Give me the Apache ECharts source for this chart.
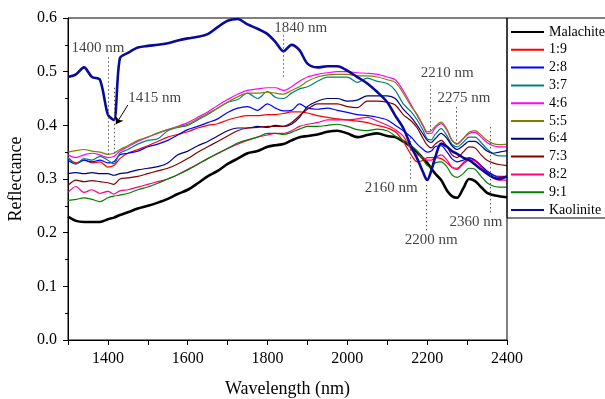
<!DOCTYPE html>
<html><head><meta charset="utf-8">
<script src="https://cdn.jsdelivr.net/npm/echarts@6/dist/echarts.min.js"></script>
<style>html,body{margin:0;padding:0;background:#fff}#c{width:605px;height:399px}</style>
</head><body><div id="c"></div><script>
const wavelengths = [1300,1320,1340,1360,1380,1400,1415,1430,1450,1475,1500,1525,1550,1575,1600,1625,1650,1675,1700,1725,1750,1775,1800,1820,1840,1860,1880,1900,1925,1950,1975,2000,2025,2050,2075,2100,2120,2140,2160,2175,2190,2200,2210,2220,2235,2250,2262,2275,2290,2305,2320,2335,2350,2365,2380,2400];

const malachite = [0.230,0.222,0.220,0.220,0.220,0.225,0.228,0.233,0.238,0.245,0.250,0.256,0.263,0.272,0.280,0.292,0.305,0.315,0.328,0.338,0.348,0.352,0.360,0.363,0.365,0.372,0.378,0.380,0.383,0.388,0.390,0.385,0.378,0.382,0.385,0.380,0.378,0.370,0.360,0.350,0.338,0.330,0.320,0.310,0.298,0.278,0.268,0.265,0.282,0.300,0.296,0.285,0.274,0.270,0.268,0.266];
const r19 = [0.340,0.330,0.335,0.330,0.332,0.322,0.325,0.338,0.348,0.355,0.362,0.370,0.378,0.383,0.388,0.395,0.400,0.403,0.410,0.415,0.418,0.418,0.420,0.420,0.422,0.425,0.425,0.423,0.418,0.415,0.412,0.410,0.408,0.405,0.400,0.395,0.388,0.370,0.345,0.332,0.335,0.340,0.340,0.340,0.338,0.330,0.322,0.320,0.330,0.338,0.335,0.325,0.313,0.307,0.305,0.305];
const r28 = [0.335,0.328,0.335,0.332,0.335,0.330,0.332,0.345,0.348,0.352,0.360,0.365,0.372,0.382,0.392,0.398,0.405,0.412,0.424,0.432,0.435,0.428,0.440,0.432,0.427,0.428,0.440,0.432,0.430,0.432,0.428,0.424,0.420,0.418,0.415,0.410,0.400,0.390,0.378,0.365,0.355,0.350,0.352,0.360,0.362,0.350,0.338,0.332,0.335,0.340,0.335,0.325,0.315,0.308,0.303,0.305];
const r37 = [0.340,0.328,0.338,0.335,0.342,0.335,0.328,0.348,0.355,0.365,0.372,0.375,0.390,0.396,0.400,0.410,0.420,0.432,0.443,0.448,0.460,0.450,0.463,0.452,0.450,0.460,0.468,0.472,0.482,0.490,0.490,0.490,0.480,0.488,0.482,0.478,0.465,0.440,0.425,0.410,0.390,0.375,0.373,0.383,0.394,0.380,0.365,0.360,0.368,0.378,0.378,0.368,0.356,0.347,0.343,0.343];
const r46 = [0.345,0.340,0.345,0.348,0.345,0.340,0.342,0.352,0.360,0.370,0.378,0.385,0.392,0.398,0.405,0.415,0.425,0.437,0.448,0.458,0.465,0.468,0.470,0.470,0.465,0.472,0.482,0.490,0.495,0.498,0.500,0.500,0.498,0.497,0.495,0.490,0.485,0.465,0.438,0.418,0.398,0.385,0.385,0.395,0.403,0.390,0.372,0.366,0.375,0.385,0.387,0.378,0.368,0.362,0.360,0.360];
const r55 = [0.350,0.353,0.355,0.352,0.350,0.346,0.348,0.355,0.362,0.372,0.378,0.386,0.392,0.397,0.402,0.412,0.422,0.432,0.443,0.453,0.460,0.460,0.462,0.460,0.458,0.465,0.472,0.482,0.490,0.494,0.495,0.495,0.492,0.492,0.490,0.485,0.480,0.460,0.435,0.420,0.400,0.388,0.390,0.398,0.406,0.392,0.373,0.365,0.375,0.387,0.390,0.382,0.372,0.366,0.364,0.365];
const r64 = [0.310,0.312,0.310,0.312,0.310,0.310,0.307,0.310,0.312,0.317,0.320,0.323,0.330,0.345,0.352,0.362,0.370,0.380,0.390,0.395,0.395,0.398,0.396,0.400,0.398,0.402,0.415,0.435,0.445,0.450,0.450,0.445,0.447,0.455,0.455,0.455,0.450,0.430,0.415,0.400,0.383,0.372,0.368,0.375,0.385,0.375,0.362,0.355,0.362,0.370,0.370,0.362,0.352,0.348,0.350,0.353];
const r73 = [0.288,0.298,0.295,0.297,0.295,0.293,0.290,0.300,0.302,0.305,0.310,0.315,0.320,0.328,0.338,0.350,0.360,0.370,0.380,0.390,0.395,0.396,0.398,0.398,0.398,0.405,0.418,0.430,0.440,0.440,0.440,0.435,0.433,0.445,0.445,0.443,0.438,0.420,0.408,0.395,0.375,0.363,0.358,0.365,0.372,0.360,0.345,0.340,0.350,0.360,0.358,0.345,0.335,0.330,0.327,0.325];
const r82 = [0.275,0.286,0.275,0.280,0.273,0.277,0.272,0.278,0.280,0.285,0.290,0.295,0.300,0.308,0.318,0.328,0.338,0.347,0.357,0.365,0.372,0.378,0.382,0.385,0.385,0.390,0.398,0.402,0.405,0.410,0.410,0.410,0.412,0.415,0.408,0.400,0.392,0.380,0.355,0.345,0.340,0.335,0.335,0.340,0.345,0.335,0.322,0.318,0.328,0.335,0.333,0.322,0.310,0.302,0.298,0.298];
const r91 = [0.260,0.262,0.265,0.262,0.258,0.265,0.268,0.270,0.273,0.280,0.285,0.292,0.300,0.308,0.317,0.327,0.338,0.348,0.357,0.367,0.373,0.378,0.385,0.385,0.383,0.387,0.393,0.398,0.398,0.400,0.402,0.398,0.392,0.390,0.393,0.390,0.380,0.372,0.362,0.352,0.335,0.325,0.322,0.330,0.332,0.322,0.308,0.303,0.310,0.320,0.318,0.305,0.293,0.287,0.285,0.285];
const kaolinite = [0.490,0.495,0.508,0.490,0.485,0.420,0.410,0.525,0.535,0.545,0.548,0.550,0.553,0.558,0.562,0.565,0.570,0.583,0.595,0.598,0.588,0.580,0.570,0.555,0.538,0.550,0.540,0.515,0.508,0.510,0.510,0.502,0.490,0.478,0.462,0.443,0.418,0.395,0.360,0.338,0.312,0.298,0.315,0.340,0.366,0.360,0.352,0.347,0.340,0.335,0.327,0.318,0.310,0.303,0.300,0.305];

const seriesNames = ['Malachite','1:9','2:8','3:7','4:6','5:5','6:4','7:3','8:2','9:1','Kaolinite'];
const seriesValues = [malachite, r19, r28, r37, r46, r55, r64, r73, r82, r91, kaolinite];

const xTicks = [1400, 1600, 1800, 2000, 2200, 2400];
const yTicks = [0.0, 0.1, 0.2, 0.3, 0.4, 0.5, 0.6];

const annotText = ['1400 nm','1415 nm','1840 nm','2210 nm','2275 nm','2160 nm','2200 nm','2360 nm'];
const annotX = [1375, 1517, 1883, 2250, 2292, 2110, 2210, 2322];
const annotY = [0.544, 0.451, 0.581, 0.497, 0.451, 0.283, 0.186, 0.220];

const guideX = [1400, 1415, 1840, 2207, 2272, 2358, 2157, 2198];
const guideTop = [0.527, 0.470, 0.568, 0.475, 0.434, 0.397, 0.378, 0.289];
const guideBottom = [0.345, 0.345, 0.490, 0.386, 0.363, 0.233, 0.298, 0.201];

const arrowFrom = [1450, 0.438];
const arrowTo = [1420, 0.402];

const colors = ['#000000','#FF0000','#0000FF','#008080','#FF00FF','#808000','#000080','#800000','#FF0080','#008000','#0A0A9A'];
const widths = [2.6,1.2,1.2,1.2,1.2,1.2,1.2,1.2,1.2,1.2,2.6];
const FONT = '"Liberation Serif", "Times New Roman", serif';

const chart = echarts.init(document.getElementById('c'), null, {renderer: 'canvas'});

const lineSeries = seriesNames.map((n, i) => ({
  name: n,
  type: 'line',
  data: wavelengths.map((w, j) => [w, seriesValues[i][j]]),
  symbol: 'none',
  smooth: 0.3,
  lineStyle: {color: colors[i], width: widths[i]},
  itemStyle: {color: colors[i]},
  emphasis: {disabled: true},
  z: 3
}));

const annotSeries = {
  name: 'annot',
  type: 'scatter',
  symbolSize: 0,
  silent: true,
  data: annotText.map((t, i) => ({value: [annotX[i], annotY[i]], label: {formatter: t}})),
  label: {show: true, position: 'inside', fontFamily: FONT, fontSize: 15, color: '#111'},
  markLine: {
    silent: true,
    symbol: 'none',
    animation: false,
    label: {show: false},
    lineStyle: {type: [1.5, 2.5], color: '#555', width: 1},
    data: guideX.map((x, i) => [{coord: [x, guideTop[i]]}, {coord: [x, guideBottom[i]]}])
  },
  z: 5
};

const arrowSeries = {
  name: 'arrow',
  type: 'line',
  data: [],
  silent: true,
  markLine: {
    silent: true,
    animation: false,
    symbol: ['none', 'arrow'],
    symbolSize: 7,
    label: {show: false},
    lineStyle: {type: 'solid', color: '#000', width: 1},
    data: [[{coord: arrowFrom}, {coord: arrowTo}]]
  },
  z: 6
};

chart.setOption({
  animation: false,
  backgroundColor: '#fff',
  grid: {left: 68, right: 98, top: 18, bottom: 59, show: true, borderColor: '#000', borderWidth: 1, containLabel: false, outerBoundsMode: 'none'},
  legend: {
    data: seriesNames,
    orient: 'vertical',
    left: 507, top: 18,
    itemWidth: 33, itemHeight: 14, itemGap: 3.8,
    padding: [7, 20, 1, 3],
    borderColor: '#000', borderWidth: 1,
    selectedMode: false,
    itemStyle: {opacity: 0},
    textStyle: {fontFamily: FONT, fontSize: 14, color: '#000', lineHeight: 14}
  },
  xAxis: {
    type: 'value', min: 1300, max: 2400, interval: 100,
    name: 'Wavelength (nm)', nameLocation: 'middle', nameGap: 40,
    nameTextStyle: {fontFamily: FONT, fontSize: 18, color: '#000'},
    axisLine: {lineStyle: {color: '#000', width: 1}},
    axisTick: {show: true, inside: false, length: 5, lineStyle: {color: '#000'}},
    axisLabel: {fontFamily: FONT, fontSize: 16, color: '#000', margin: 11,
      formatter: v => xTicks.indexOf(v) >= 0 ? String(v) : ''},
    splitLine: {show: false}
  },
  yAxis: {
    type: 'value', min: 0, max: 0.6, interval: 0.1,
    name: 'Reflectance', nameLocation: 'middle', nameGap: 43,
    nameTextStyle: {fontFamily: FONT, fontSize: 18, color: '#000'},
    axisLine: {show: true, lineStyle: {color: '#000', width: 1}},
    axisTick: {show: true, inside: false, length: 5, lineStyle: {color: '#000'}},
    minorTick: {show: true, splitNumber: 2, length: 3, lineStyle: {color: '#000'}},
    axisLabel: {fontFamily: FONT, fontSize: 16, color: '#000', margin: 11,
      formatter: v => {const t = yTicks.find(k => Math.abs(k - v) < 1e-6); return t === undefined ? '' : t.toFixed(1);}},
    splitLine: {show: false}
  },
  series: lineSeries.concat([annotSeries, arrowSeries])
});
</script></body></html>
